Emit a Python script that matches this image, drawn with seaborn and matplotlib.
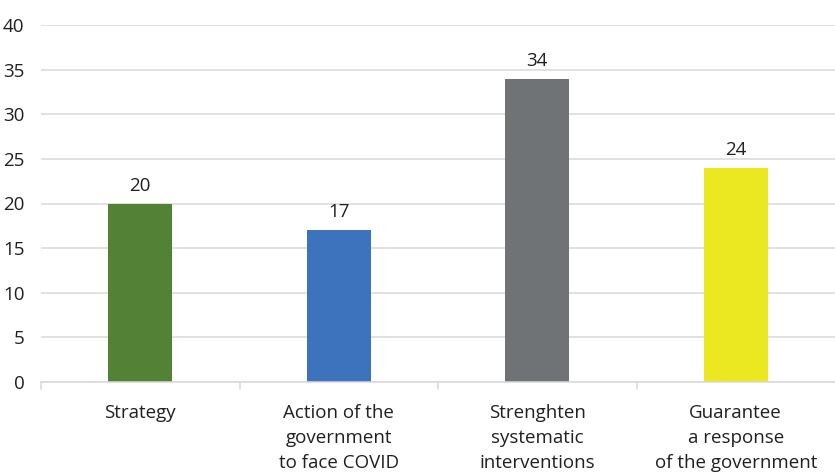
import matplotlib
matplotlib.use("Agg")
import matplotlib.pyplot as plt
import seaborn as sns
import pandas as pd

categories = [
    "Strategy",
    "Action of the\ngovernment\nto face COVID",
    "Strenghten\nsystematic\ninterventions",
    "Guarantee\na response\nof the government",
]
values = [20, 17, 34, 24]
colors = ["#538135", "#3D72BD", "#707376", "#EBE822"]
y_ticks = [0, 5, 10, 15, 20, 25, 30, 35, 40]

sns.set_theme(style="white")
plt.rcParams["font.family"] = ["Open Sans", "DejaVu Sans"]

df = pd.DataFrame({"category": categories, "value": values})

fig = plt.figure(figsize=(8.35, 4.72), dpi=100)
ax = fig.add_axes([41 / 835, 1 - 382 / 472, 794 / 835, (382 - 25) / 472])

sns.barplot(data=df, x="category", y="value", hue="category",
            palette=colors, width=0.32, legend=False, ax=ax, saturation=1,
            linewidth=0)

ax.set_xlim(-0.5, len(categories) - 0.5)
ax.set_ylim(0, 40)
ax.set_yticks(y_ticks)
ax.set_yticklabels([str(t) for t in y_ticks], fontsize=13.5, color="#231F20")
ax.grid(axis="y", color="#D9D9D9", linewidth=1.1)
ax.set_axisbelow(True)

for s in ["top", "right", "left"]:
    ax.spines[s].set_visible(False)
ax.spines["bottom"].set_color("#D9D9D9")
ax.spines["bottom"].set_linewidth(1.1)

# category labels centred under each bar, boundary tick marks between them
ax.set_xticks(range(len(categories)))
ax.set_xticklabels(categories, fontsize=13.5, color="#231F20", linespacing=1.5,
                   va="top")
ax.tick_params(axis="x", length=0, pad=16)
ax.tick_params(axis="y", length=0, pad=12)
for b in [-0.5, 0.5, 1.5, 2.5]:
    ax.plot([b, b], [0, -0.75], color="#D9D9D9", linewidth=1.1,
            clip_on=False, transform=ax.transData)

for i, v in enumerate(values):
    ax.text(i, v + 1.0, str(v), ha="center", va="bottom", fontsize=13.5,
            color="#231F20")

ax.set_xlabel("")
ax.set_ylabel("")
fig.savefig("out.png", dpi=100)
